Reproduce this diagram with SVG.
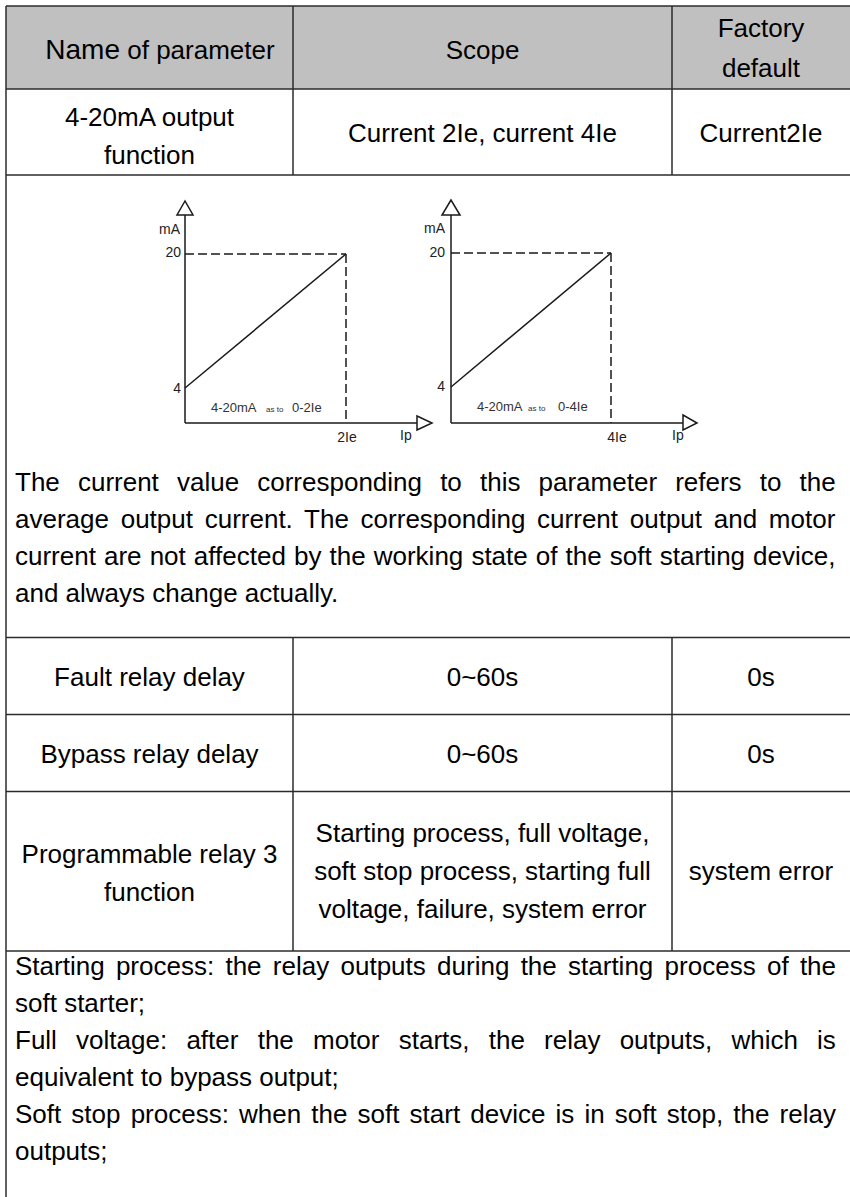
<svg xmlns="http://www.w3.org/2000/svg" width="850" height="1197" viewBox="0 0 850 1197">
  <style>
    .t { font-family: "Liberation Sans", Arial, sans-serif; font-size: 26px; fill: #000; }
    .c { text-anchor: middle; }
    .grid { stroke: #2b2b2b; stroke-width: 1.5; fill: none; }
    .ax { stroke: #1a1a1a; stroke-width: 1.5; fill: none; }
    .dash { stroke: #1a1a1a; stroke-width: 1.5; fill: none; stroke-dasharray: 9 4; }
    .head { fill: #ffffff; stroke: #1a1a1a; stroke-width: 1.5; stroke-linejoin: miter; }
    .lbl { font-family: "Liberation Sans", Arial, sans-serif; font-size: 14px; fill: #222; }
    .cap { font-family: "Liberation Sans", Arial, sans-serif; font-size: 13px; fill: #333; }
    .tiny { font-family: "Liberation Sans", Arial, sans-serif; font-size: 8px; fill: #333; }
  </style>

  <rect width="850" height="1197" fill="#ffffff"/>

  <!-- header band -->
  <rect id="header-band" x="6" y="6" width="844" height="83" fill="#c0c0c0"/>

  <!-- table rules -->
  <g id="grid" class="grid">
    <line x1="6" y1="6" x2="850" y2="6"/>
    <line x1="6" y1="89" x2="850" y2="89"/>
    <line x1="6" y1="175" x2="850" y2="175"/>
    <line x1="6" y1="637.5" x2="850" y2="637.5"/>
    <line x1="6" y1="714.5" x2="850" y2="714.5"/>
    <line x1="6" y1="791.5" x2="850" y2="791.5"/>
    <line x1="6" y1="951" x2="850" y2="951"/>
    <line x1="6" y1="6" x2="6" y2="1197"/>
    <line x1="293" y1="6" x2="293" y2="175"/>
    <line x1="672" y1="6" x2="672" y2="175"/>
    <line x1="293" y1="637.5" x2="293" y2="951"/>
    <line x1="672" y1="637.5" x2="672" y2="951"/>
  </g>

  <!-- header row -->
  <g id="hdr-name"><text class="t c" x="160" y="59"><tspan font-size="28">Name</tspan> of parameter</text></g>
  <g id="hdr-scope"><text class="t c" x="482.5" y="59">Scope</text></g>
  <g id="hdr-default">
    <text class="t c" x="761" y="37">Factory</text>
    <text class="t c" x="761" y="77">default</text>
  </g>

  <!-- 4-20mA output row -->
  <g id="row-output-name">
    <text class="t c" x="149.5" y="126">4-20mA output</text>
    <text class="t c" x="149.5" y="164">function</text>
  </g>
  <g id="row-output-scope"><text class="t c" x="482.5" y="142">Current 2Ie, current 4Ie</text></g>
  <g id="row-output-default"><text class="t c" x="761" y="142">Current2Ie</text></g>

  <!-- chart: 4-20mA against 0-2Ie -->
  <g id="chart-2ie">
    <line class="ax" x1="185" y1="215" x2="185" y2="423"/>
    <line class="ax" x1="185" y1="423" x2="417" y2="423"/>
    <polygon class="head" points="185,201 177,215 193,215"/>
    <polygon class="head" points="417,416 432,423 417,430"/>
    <line class="dash" x1="185" y1="254" x2="346" y2="254"/>
    <line class="dash" x1="346" y1="254" x2="346" y2="423"/>
    <line class="ax" x1="185" y1="388" x2="346" y2="254"/>
    <text class="lbl" x="180" y="234" text-anchor="end">mA</text>
    <text class="lbl" x="181" y="257" text-anchor="end">20</text>
    <text class="lbl" x="181" y="393" text-anchor="end">4</text>
    <text class="cap" x="211" y="412">4-20mA</text>
    <text class="tiny" x="266" y="412">as to</text>
    <text class="cap" x="292" y="412">0-2Ie</text>
    <text class="lbl" x="347" y="442" text-anchor="middle">2Ie</text>
    <text class="lbl" x="400" y="440">Ip</text>
  </g>

  <!-- chart: 4-20mA against 0-4Ie -->
  <g id="chart-4ie">
    <line class="ax" x1="451" y1="215" x2="451" y2="423"/>
    <line class="ax" x1="451" y1="423" x2="683" y2="423"/>
    <polygon class="head" points="451,200 442,215 460,215"/>
    <polygon class="head" points="683,415 697,423 683,430"/>
    <line class="dash" x1="451" y1="253" x2="611" y2="253"/>
    <line class="dash" x1="611" y1="253" x2="611" y2="423"/>
    <line class="ax" x1="451" y1="387" x2="611" y2="253"/>
    <text class="lbl" x="445" y="233" text-anchor="end">mA</text>
    <text class="lbl" x="445" y="257" text-anchor="end">20</text>
    <text class="lbl" x="445" y="391" text-anchor="end">4</text>
    <text class="cap" x="477" y="411">4-20mA</text>
    <text class="tiny" x="528" y="411">as to</text>
    <text class="cap" x="558" y="411">0-4Ie</text>
    <text class="lbl" x="617" y="442" text-anchor="middle">4Ie</text>
    <text class="lbl" x="672" y="440">Ip</text>
  </g>

  <!-- description of the output current -->
  <g id="note-output">
    <text class="t" x="15" y="491" word-spacing="10.9">The current value corresponding to this parameter refers to the</text>
    <text class="t" x="15" y="528" word-spacing="4.5">average output current. The corresponding current output and motor</text>
    <text class="t" x="15" y="565" word-spacing="0.85">current are not affected by the working state of the soft starting device,</text>
    <text class="t" x="15" y="602">and always change actually.</text>
  </g>

  <!-- relay delay rows -->
  <g id="row-fault">
    <text class="t c" x="149.5" y="686">Fault relay delay</text>
    <text class="t c" x="482.5" y="686">0~60s</text>
    <text class="t c" x="761" y="686">0s</text>
  </g>
  <g id="row-bypass">
    <text class="t c" x="149.5" y="763">Bypass relay delay</text>
    <text class="t c" x="482.5" y="763">0~60s</text>
    <text class="t c" x="761" y="763">0s</text>
  </g>

  <!-- programmable relay 3 row -->
  <g id="row-relay3-name">
    <text class="t c" x="149.5" y="863">Programmable relay 3</text>
    <text class="t c" x="149.5" y="901">function</text>
  </g>
  <g id="row-relay3-scope">
    <text class="t c" x="482.5" y="842">Starting process, full voltage,</text>
    <text class="t c" x="482.5" y="880">soft stop process, starting full</text>
    <text class="t c" x="482.5" y="918">voltage, failure, system error</text>
  </g>
  <g id="row-relay3-default"><text class="t c" x="761" y="880">system error</text></g>

  <!-- relay 3 option notes -->
  <g id="note-relay3">
    <text class="t" x="15" y="975" word-spacing="4.06">Starting process: the relay outputs during the starting process of the</text>
    <text class="t" x="15" y="1012">soft starter;</text>
    <text class="t" x="15" y="1049" word-spacing="12">Full voltage: after the motor starts, the relay outputs, which is</text>
    <text class="t" x="15" y="1086">equivalent to bypass output;</text>
    <text class="t" x="15" y="1123" word-spacing="2.9">Soft stop process: when the soft start device is in soft stop, the relay</text>
    <text class="t" x="15" y="1160">outputs;</text>
  </g>
</svg>
